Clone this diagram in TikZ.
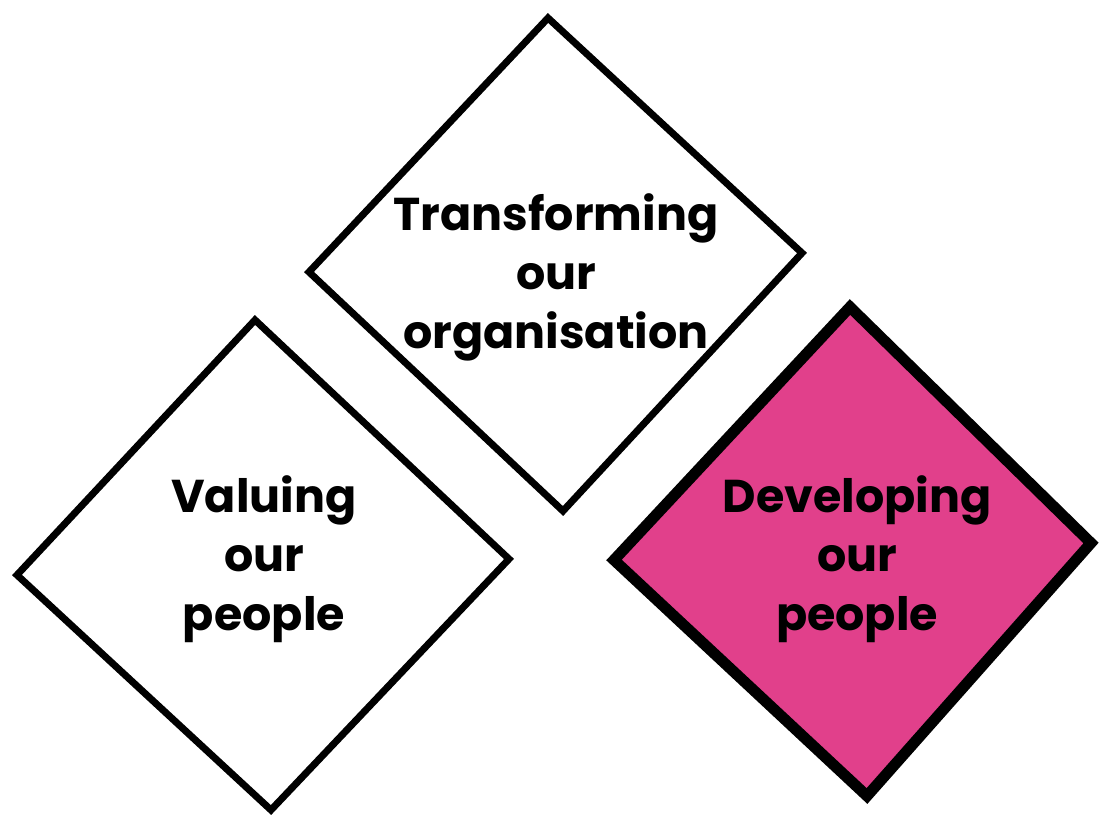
\documentclass[tikz,border=0pt]{standalone}
\usepackage{fontspec}
\setmainfont{Poppins}[BoldFont={* Bold}]
\definecolor{devpink}{HTML}{E1408B}
\begin{document}
\begin{tikzpicture}[x=1pt,y=-1pt,
  dia/.style={draw=black,line width=7pt,line join=miter,fill=white},
  diapink/.style={draw=black,line width=11pt,line join=miter,fill=devpink},
  lbl/.style={align=center,font=\fontsize{46}{59}\selectfont\bfseries,inner sep=0pt}]
\useasboundingbox (0,0) rectangle (1105,818);
% Transforming diamond
\coordinate (t1) at (548,18);
\coordinate (r1) at (802,253);
\coordinate (b1) at (563,511);
\coordinate (l1) at (309,272);
\draw[dia] (t1) -- (r1) -- (b1) -- (l1) -- cycle;
% Valuing diamond
\coordinate (t2) at (255,320);
\coordinate (r2) at (509,559);
\coordinate (b2) at (271,810);
\coordinate (l2) at (17,575);
\draw[dia] (t2) -- (r2) -- (b2) -- (l2) -- cycle;
% Developing diamond
\coordinate (t3) at (850,307);
\coordinate (r3) at (1091,543);
\coordinate (b3) at (867,796);
\coordinate (l3) at (614,560);
\draw[diapink] (t3) -- (r3) -- (b3) -- (l3) -- cycle;
\node[lbl] (transf) at (556,277) {Transforming\\our\\organisation};
\node[lbl] (valu) at (264,559) {Valuing\\our\\people};
\node[lbl] (devel) at (857,559) {Developing\\our\\people};
\end{tikzpicture}
\end{document}
